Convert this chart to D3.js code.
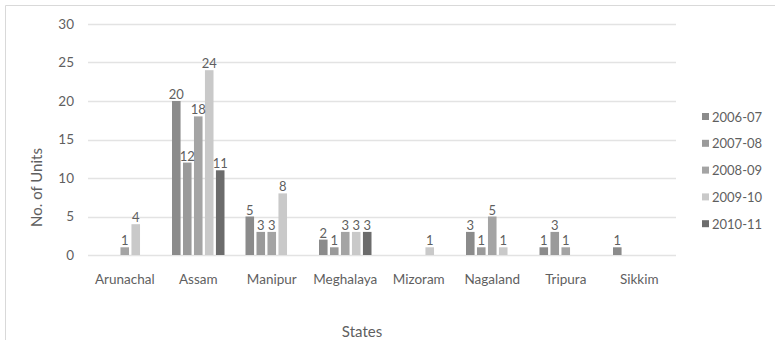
<!DOCTYPE html>
<html>
<head>
<meta charset="utf-8">
<script src="https://cdn.jsdelivr.net/npm/d3@7"></script>
<style>
  html, body { margin: 0; padding: 0; background: #fff; }
  svg { display: block; font-family: Lato, "Open Sans", sans-serif; }
</style>
</head>
<body>
<svg id="chart" width="775" height="340"></svg>
<script>
// Industrial units set up per state, by financial year
const states = ["Arunachal", "Assam", "Manipur", "Meghalaya", "Mizoram", "Nagaland", "Tripura", "Sikkim"];
const years = ["2006-07", "2007-08", "2008-09", "2009-10", "2010-11"];
const units2006 = [null, 20, 5, 2, null, 3, 1, 1];
const units2007 = [null, 12, 3, 1, null, 1, 3, null];
const units2008 = [1, 18, 3, 3, null, 5, 1, null];
const units2009 = [4, 24, 8, 3, 1, 1, null, null];
const units2010 = [null, 11, null, 3, null, null, null, null];
const yTicks = [0, 5, 10, 15, 20, 25, 30];
const yearColors = ["#8b8b8b", "#9a9a9a", "#a4a4a4", "#c9c9c9", "#6c6c6c"];

const seriesValues = [units2006, units2007, units2008, units2009, units2010];

const svg = d3.select("#chart");
const plot = { left: 88, right: 676, top: 24, bottom: 255 };
const textColor = "#5f5f5f";

// chart frame (top and left edges)
svg.append("path")
  .attr("d", "M5.5,340 V5.5 H775")
  .attr("fill", "none")
  .attr("stroke", "#d9d9d9")
  .attr("stroke-width", 1);

const x = d3.scaleBand().domain(states).range([plot.left, plot.right]).paddingInner(0).paddingOuter(0);
const xInner = d3.scaleBand().domain(years).range([10.5, x.bandwidth() - 10.5]).paddingInner(0.22).paddingOuter(0);
const y = d3.scaleLinear().domain([0, 30]).range([plot.bottom, plot.top]);

// gridlines
svg.append("g").selectAll("line")
  .data(yTicks)
  .join("line")
  .attr("x1", plot.left).attr("x2", plot.right)
  .attr("y1", d => Math.round(y(d)) + 0.5).attr("y2", d => Math.round(y(d)) + 0.5)
  .attr("stroke", "#e3e3e3")
  .attr("stroke-width", 1.3);

// y axis labels
const yAxis = d3.axisLeft(y).tickValues(yTicks).tickSize(0).tickPadding(14);
const gy = svg.append("g").attr("transform", `translate(${plot.left},0)`).call(yAxis);
gy.select(".domain").remove();
gy.selectAll("text").attr("fill", textColor).attr("font-size", 13.5).attr("font-family", "Lato, sans-serif");

// x axis labels
const xAxis = d3.axisBottom(x).tickSize(0).tickPadding(19);
const gx = svg.append("g").attr("transform", `translate(0,${plot.bottom})`).call(xAxis);
gx.select(".domain").remove();
gx.selectAll("text").attr("fill", textColor).attr("font-size", 13.5).attr("font-family", "Lato, sans-serif");

// bars and value labels
const records = [];
states.forEach((s, i) => {
  years.forEach((yr, j) => {
    const v = seriesValues[j][i];
    if (v != null) records.push({ state: s, year: yr, value: v, color: yearColors[j] });
  });
});

const barG = svg.append("g");
barG.selectAll("rect")
  .data(records)
  .join("rect")
  .attr("x", d => x(d.state) + xInner(d.year))
  .attr("width", xInner.bandwidth())
  .attr("y", d => y(d.value))
  .attr("height", d => y(0) - y(d.value))
  .attr("fill", d => d.color);

barG.selectAll("text")
  .data(records)
  .join("text")
  .attr("x", d => x(d.state) + xInner(d.year) + xInner.bandwidth() / 2)
  .attr("y", d => y(d.value) - 2)
  .attr("text-anchor", "middle")
  .attr("fill", textColor)
  .attr("font-size", 13)
  .text(d => d.value);

// axis titles
svg.append("text")
  .attr("transform", `translate(42,${(plot.top + plot.bottom) / 2 + 48}) rotate(-90)`)
  .attr("text-anchor", "middle")
  .attr("fill", textColor)
  .attr("font-size", 15)
  .text("No. of Units");

svg.append("text")
  .attr("x", 362)
  .attr("y", 337)
  .attr("text-anchor", "middle")
  .attr("fill", textColor)
  .attr("font-size", 15)
  .text("States");

// legend
const legend = svg.append("g").attr("transform", "translate(702,117)");
const item = legend.selectAll("g")
  .data(years)
  .join("g")
  .attr("transform", (d, i) => `translate(0,${i * 26.8})`);
item.append("rect")
  .attr("x", 0).attr("y", -4)
  .attr("width", 7).attr("height", 7)
  .attr("fill", (d, i) => yearColors[i]);
item.append("text")
  .attr("x", 10).attr("y", 4.5)
  .attr("fill", textColor)
  .attr("font-size", 13)
  .text(d => d);
</script>
</body>
</html>
